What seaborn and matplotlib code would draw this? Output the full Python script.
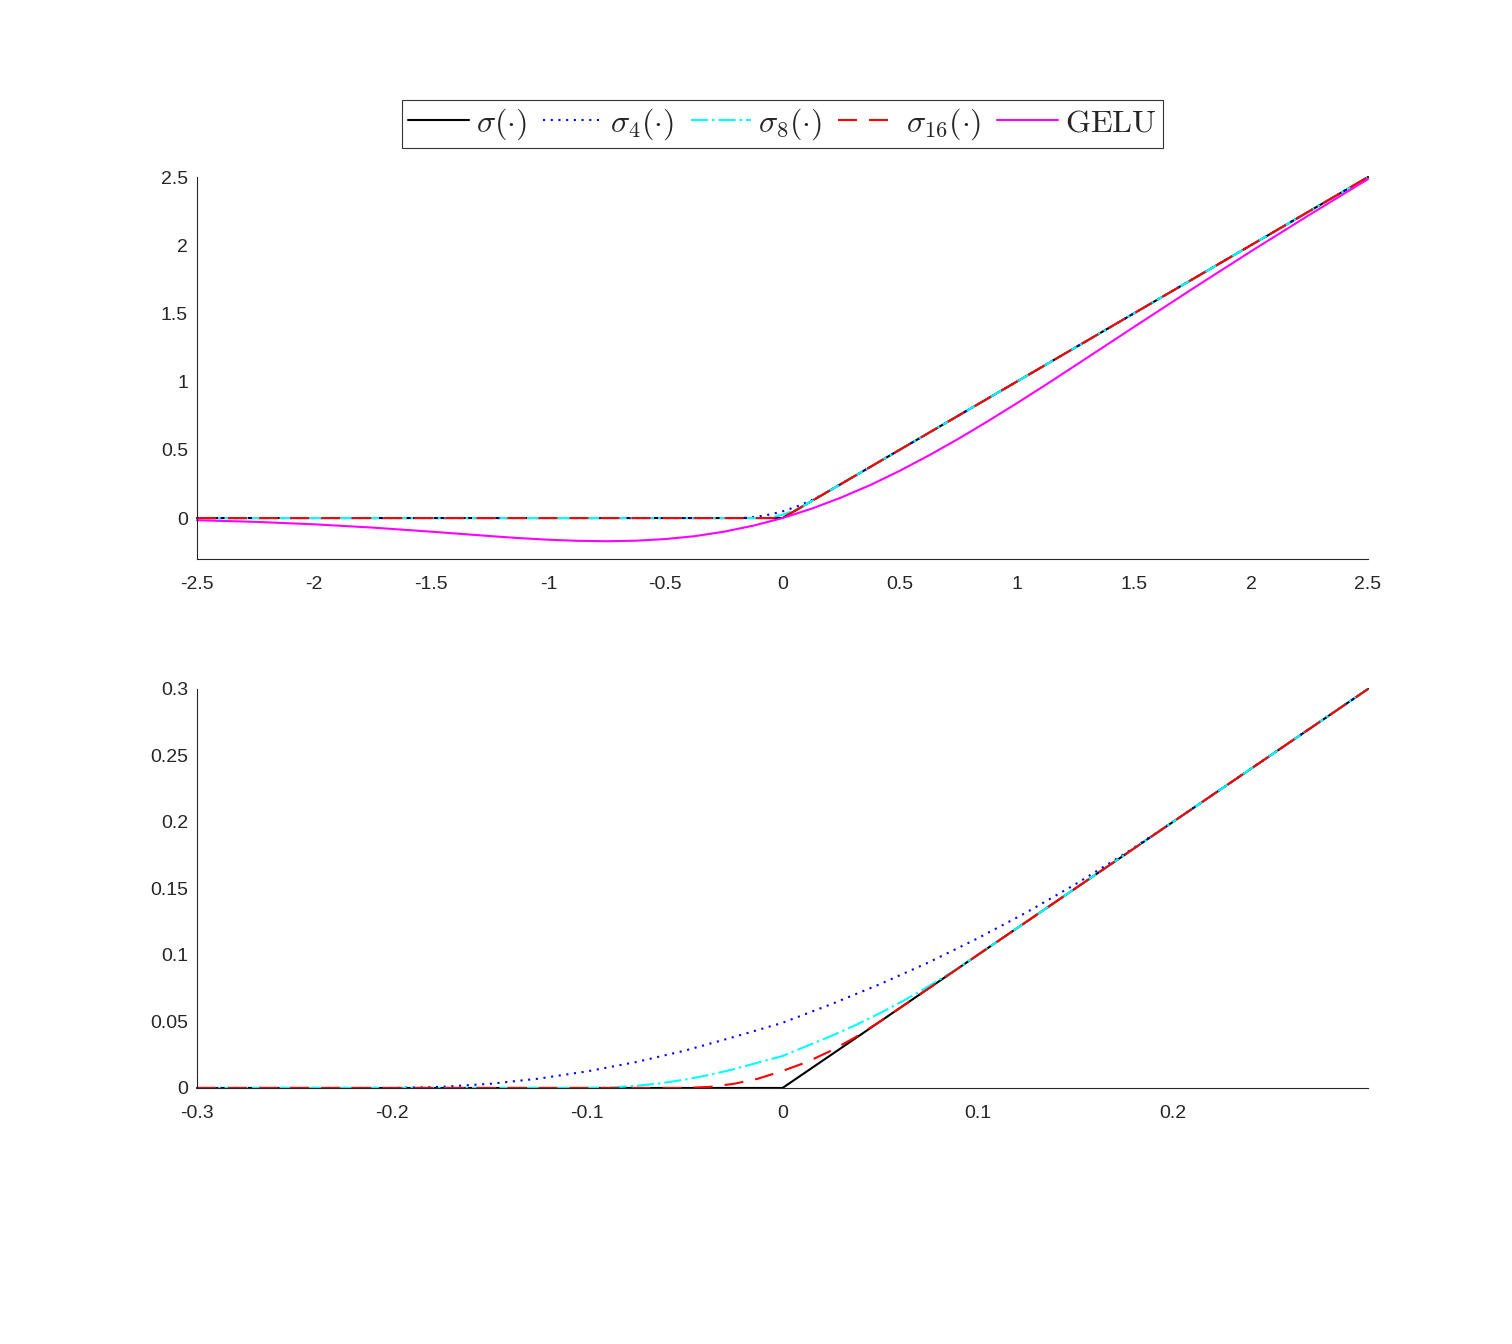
import matplotlib
matplotlib.use("Agg")
import matplotlib.pyplot as plt
import seaborn as sns

# smoothed-ReLU approximations: only the bent part near 0 is listed,
# outside it every curve sits on the plain ReLU
s4_x = [-0.2, -0.175, -0.15, -0.125, -0.1, -0.075, -0.05, -0.025, 0.0,
        0.025, 0.05, 0.075, 0.1, 0.125, 0.15, 0.175, 0.2]
s4_y = [0.0, 0.0008, 0.0031, 0.0070, 0.0125, 0.0195, 0.0281, 0.0383, 0.049,
        0.0630, 0.0781, 0.0945, 0.1125, 0.1320, 0.1531, 0.1758, 0.2]

s8_x = [-0.1, -0.0875, -0.075, -0.0625, -0.05, -0.0375, -0.025, -0.0125, 0.0,
        0.0125, 0.025, 0.0375, 0.05, 0.0625, 0.075, 0.0875, 0.1]
s8_y = [0.0, 0.0004, 0.0016, 0.0035, 0.0063, 0.0098, 0.0141, 0.0191, 0.024,
        0.0316, 0.0391, 0.0473, 0.0563, 0.0660, 0.0766, 0.0879, 0.1]

s16_x = [-0.05, -0.0375, -0.025, -0.0125, 0.0, 0.0125, 0.025, 0.0375, 0.05]
s16_y = [0.0, 0.0008, 0.0031, 0.0070, 0.0128, 0.0195, 0.0281, 0.0383, 0.05]

relu_x = [0.0]
relu_y = [0.0]

gelu_x = [-2.5, -2.25, -2.0, -1.75, -1.5, -1.375, -1.25, -1.125, -1.0,
          -0.875, -0.75, -0.625, -0.5, -0.375, -0.25, -0.125, 0.0,
          0.125, 0.25, 0.375, 0.5, 0.625, 0.75, 0.875, 1.0, 1.125, 1.25,
          1.375, 1.5, 1.75, 2.0, 2.25, 2.5]
gelu_y = [-0.016, -0.028, -0.046, -0.070, -0.100, -0.116, -0.132, -0.147,
          -0.159, -0.167, -0.170, -0.166, -0.154, -0.133, -0.100, -0.056, 0.0,
          0.069, 0.150, 0.242, 0.346, 0.459, 0.580, 0.708, 0.841, 0.978,
          1.118, 1.259, 1.400, 1.680, 1.955, 2.223, 2.485]

labels = [r'$\sigma(\cdot)$', r'$\sigma_4(\cdot)$', r'$\sigma_8(\cdot)$',
          r'$\sigma_{16}(\cdot)$', r'$\mathrm{GELU}$']

TXT = '#262626'
LW = 1.5
STYLES = {
    'relu': dict(color='black', linestyle='-'),
    's4': dict(color='blue', linestyle=(0, (1.0, 2.7))),
    's8': dict(color='cyan', linestyle=(0, (8.2, 1.9, 1.2, 1.9))),
    's16': dict(color='red', linestyle=(0, (9.1, 5.8))),
    'gelu': dict(color='magenta', linestyle='-'),
}


def with_ends(xs, ys, lo, hi):
    # extend a knee segment along the ReLU up to the axis limits
    return [lo] + list(xs) + [hi], [0.0] + list(ys) + [hi]


def style_axis(ax, xticks, xlabels, yticks, ylabels):
    ax.set_xticks(xticks, xlabels)
    ax.set_yticks(yticks, ylabels)
    for side in ['top', 'right']:
        ax.spines[side].set_visible(False)
    for side in ['left', 'bottom']:
        ax.spines[side].set_color(TXT)
        ax.spines[side].set_linewidth(0.8)
    ax.tick_params(direction='in', length=8, width=0.8, colors=TXT,
                   labelsize=14)
    ax.tick_params(axis='x', pad=12)
    ax.tick_params(axis='y', pad=6.5)


sns.set_style('white')
plt.rcParams['font.family'] = ['Liberation Sans', 'DejaVu Sans']
plt.rcParams['mathtext.fontset'] = 'cm'
plt.rcParams['axes.unicode_minus'] = False

fig = plt.figure(figsize=(15.12, 13.44), dpi=100)
ax1 = fig.add_axes([0.1303, 0.5841, 0.7745, 0.2842])
ax2 = fig.add_axes([0.1303, 0.1905, 0.7745, 0.2969])

series = [('relu', relu_x, relu_y), ('s4', s4_x, s4_y),
          ('s8', s8_x, s8_y), ('s16', s16_x, s16_y)]

# top panel
for (key, xs, ys), lab in zip(series, labels):
    x, y = with_ends(xs, ys, -2.5, 2.5)
    sns.lineplot(x=x, y=y, ax=ax1, sort=False, estimator=None, lw=LW,
                 label=lab, clip_on=False, **STYLES[key])
sns.lineplot(x=gelu_x, y=gelu_y, ax=ax1, sort=False, estimator=None, lw=LW,
             label=labels[4], clip_on=False, **STYLES['gelu'])
ax1.set_xlim(-2.5, 2.5)
ax1.set_ylim(-0.3, 2.5)
style_axis(ax1, [-2.5, -2, -1.5, -1, -0.5, 0, 0.5, 1, 1.5, 2, 2.5],
           ['-2.5', '-2', '-1.5', '-1', '-0.5', '0', '0.5', '1', '1.5', '2', '2.5'],
           [0, 0.5, 1, 1.5, 2, 2.5], ['0', '0.5', '1', '1.5', '2', '2.5'])

# bottom panel (zoom near the kink)
for key, xs, ys in series:
    x, y = with_ends(xs, ys, -0.3, 0.3)
    sns.lineplot(x=x, y=y, ax=ax2, sort=False, estimator=None, lw=LW,
                 clip_on=False, legend=False, **STYLES[key])
ax2.set_xlim(-0.3, 0.3)
ax2.set_ylim(0, 0.3)
style_axis(ax2, [-0.3, -0.2, -0.1, 0, 0.1, 0.2],
           ['-0.3', '-0.2', '-0.1', '0', '0.1', '0.2'],
           [0, 0.05, 0.1, 0.15, 0.2, 0.25, 0.3],
           ['0', '0.05', '0.1', '0.15', '0.2', '0.25', '0.3'])

leg = ax1.legend(loc='center', bbox_to_anchor=(0.5175, 0.9077),
                 bbox_transform=fig.transFigure, ncol=5, frameon=True,
                 fancybox=False, edgecolor='black', fontsize=23,
                 handlelength=1.9, handletextpad=0.22, columnspacing=0.5,
                 borderpad=0.2, borderaxespad=0)
leg.get_frame().set_linewidth(0.8)

fig.savefig('out.png', dpi=100, facecolor='white')
